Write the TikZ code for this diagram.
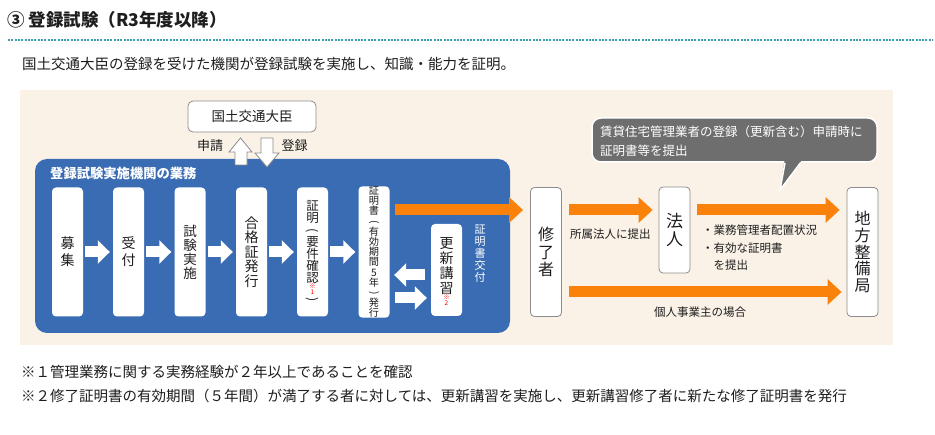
\documentclass[tikz,border=0pt]{standalone}
\usepackage{fontspec}
\usepackage{graphicx}
\setmainfont{Noto Sans CJK JP}
\usetikzlibrary{arrows.meta}
\definecolor{bgbeige}{RGB}{250,242,231}
\definecolor{kblue}{RGB}{58,108,180}
\definecolor{korange}{RGB}{250,130,10}
\definecolor{kteal}{RGB}{60,160,175}
\definecolor{kgray}{RGB}{110,110,110}
\definecolor{kborder}{RGB}{140,140,140}
\definecolor{ktext}{RGB}{30,30,30}
\newcommand{\vlp}{\rotatebox[origin=c]{-90}{(}}
\newcommand{\vrp}{\rotatebox[origin=c]{-90}{)}}
\begin{document}
\begin{tikzpicture}[x=1pt,y=-1pt,
  wbox/.style={fill=white, rounded corners=4pt, minimum width=31pt, inner sep=0pt, align=center, text=ktext},
  obox/.style={wbox, draw=kborder, line width=0.8pt},
  warrow/.style={draw=white, line width=11pt, -{Triangle[length=12pt,width=23pt]}},
  oarrow/.style={draw=korange, line width=11pt, -{Triangle[length=14pt,width=25pt]}},
  redmark/.style={text=red, font=\fontsize{6.5}{6}\selectfont, align=center, inner sep=0pt},
  lbl/.style={text=ktext, inner sep=0pt}
]
\useasboundingbox (0,0) rectangle (935,435);
\fill[white] (0,0) rectangle (935,435);

% header
\node[lbl, anchor=west, font=\fontsize{17.5}{17.5}\selectfont\bfseries] (title) at (7,20) {③ 登録試験（R3年度以降）};
\draw[kteal, line width=2pt, dash pattern=on 2pt off 1.3pt] (8,40) -- (933,40);
\node[lbl, anchor=west, font=\fontsize{14.5}{14.5}\selectfont] (sub) at (22,64) {国土交通大臣の登録を受けた機関が登録試験を実施し、知識・能力を証明。};

% background
\fill[bgbeige] (20,90) rectangle (893,345);

% blue area
\fill[kblue, rounded corners=12pt] (35,159) rectangle (510,333);
\node[anchor=west, text=white, inner sep=0pt, font=\fontsize{13.3}{13.3}\selectfont\bfseries] (kikan) at (50,173) {登録試験実施機関の業務};

% minister box
\node[obox, rounded corners=5pt, minimum width=128pt, minimum height=31pt, font=\fontsize{13.5}{13.5}\selectfont] (kokudo) at (252,116.5) {国土交通大臣};

% boxes in blue area
\node[wbox, minimum height=129pt, font=\fontsize{14}{17}\selectfont] (boshu) at (67.5,252) {募\\集};
\node[wbox, minimum height=129pt, font=\fontsize{14}{17}\selectfont] (uketsuke) at (128.5,252) {受\\付};
\node[wbox, minimum height=129pt, font=\fontsize{13.5}{14}\selectfont] (shiken) at (190,252) {試\\験\\実\\施};
\node[wbox, minimum height=129pt, font=\fontsize{14}{14.5}\selectfont] (gokaku) at (251.5,252) {合\\格\\証\\発\\行};
\node[wbox, minimum height=129pt, font=\fontsize{12.5}{12}\selectfont] (shomei) at (312.5,252) {証\\明\\\vlp\\要\\件\\確\\認\\[9pt]\vrp};
\node[wbox, minimum height=129pt, font=\fontsize{10.2}{10.2}\selectfont] (shomeisho) at (374,252) {証\\明\\書\\\vlp\\有\\効\\期\\間\\5\\年\\\vrp\\発\\行};
\node[wbox, minimum height=92pt, font=\fontsize{14}{15}\selectfont] (koshin) at (446.5,270) {更\\新\\講\\習\\[-5pt]\mbox{}};
\node[redmark] (m1) at (312.5,289) {※\\1};
\node[redmark] (m2) at (446.5,300) {※\\2};
\node[text=white, inner sep=0pt, align=center, font=\fontsize{11}{12}\selectfont] (kofu) at (480,254) {証\\明\\書\\交\\付};

% white arrows
\draw[warrow] ([xshift=2pt]boshu.east) -- ([xshift=-3pt]uketsuke.west);
\draw[warrow] ([xshift=2pt]uketsuke.east) -- ([xshift=-3pt]shiken.west);
\draw[warrow] ([xshift=2pt]shiken.east) -- ([xshift=-3pt]gokaku.west);
\draw[warrow] ([xshift=2pt]gokaku.east) -- ([xshift=-3pt]shomei.west);
\draw[warrow] ([xshift=2pt]shomei.east) -- ([xshift=-3pt]shomeisho.west);
\draw[warrow] ([xshift=-6pt,yshift=-5pt]koshin.west) -- ([xshift=4.5pt,yshift=-23pt]shomeisho.east);
\draw[warrow] ([xshift=5.5pt,yshift=-46pt]shomeisho.east) -- ([xshift=-4pt,yshift=-28pt]koshin.west);

% up/down arrows to minister
\draw[kborder, fill=white, line width=0.8pt] (235,165) -- (235,152) -- (229,152) -- (240.5,138) -- (252,152) -- (247,152) -- (247,165) -- cycle;
\draw[kborder, fill=white, line width=0.8pt] (261,138) -- (273,138) -- (273,153) -- (279,153) -- (267,167) -- (255,153) -- (261,153) -- cycle;
\node[lbl, font=\fontsize{13}{13}\selectfont] (shinsei) at (210,146) {申請};
\node[lbl, font=\fontsize{13}{13}\selectfont] (toroku) at (294.5,146) {登録};

% right side boxes
\node[obox, minimum height=129pt, font=\fontsize{16}{17.5}\selectfont] (shuryo) at (546,252) {修\\了\\者};
\node[obox, minimum height=86pt, font=\fontsize{17}{18}\selectfont] (hojin) at (674.5,230) {法\\人};
\node[obox, minimum height=129pt, font=\fontsize{16}{16.7}\selectfont] (chiho) at (862.5,252) {地\\方\\整\\備\\局};

% orange arrows
\draw[oarrow] ([xshift=5.5pt,yshift=42pt]shomeisho.east) -- ([xshift=-7pt,yshift=42pt]shuryo.west);
\draw[oarrow] ([xshift=7pt,yshift=42pt]shuryo.east) -- ([xshift=-6pt,yshift=20pt]hojin.west);
\draw[oarrow] ([xshift=7pt,yshift=20pt]hojin.east) -- ([xshift=-7pt,yshift=42pt]chiho.west);
\draw[oarrow] ([xshift=7pt,yshift=-40pt]shuryo.east) -- ([xshift=-5pt,yshift=-40pt]chiho.west);

% labels
\node[lbl, anchor=west, font=\fontsize{11.5}{11.5}\selectfont] (shozoku) at (570,234) {所属法人に提出};
\node[lbl, anchor=west, align=left, font=\fontsize{11.5}{17.5}\selectfont] (teishutsu) at (702,248) {・業務管理者配置状況\\・有効な証明書\\　を提出};
\node[lbl, font=\fontsize{11.5}{11.5}\selectfont] (kojin) at (700,312) {個人事業主の場合};

% callout
\draw[white, line width=1.5pt, fill=kgray, rounded corners=9pt] (592,118) rectangle (877,162);
\fill[kgray] (784.5,160.5) -- (780,190) -- (801.5,160.5) -- cycle;
\draw[white, line width=1.5pt, line join=miter] (785,162.8) -- (780,190) -- (800.5,162.8);
\node[anchor=west, align=left, text=white, inner sep=0pt, font=\fontsize{12.5}{19}\selectfont] (callout) at (600,141.5) {賃貸住宅管理業者の登録（更新含む）申請時に\\証明書等を提出};

% footnotes
\node[lbl, anchor=west, font=\fontsize{14.5}{14.5}\selectfont] (note1) at (21,372) {※１管理業務に関する実務経験が２年以上であることを確認};
\node[lbl, anchor=west, font=\fontsize{14.5}{14.5}\selectfont] (note2) at (21,396) {※２修了証明書の有効期間（５年間）が満了する者に対しては、更新講習を実施し、更新講習修了者に新たな修了証明書を発行};
\end{tikzpicture}
\end{document}
